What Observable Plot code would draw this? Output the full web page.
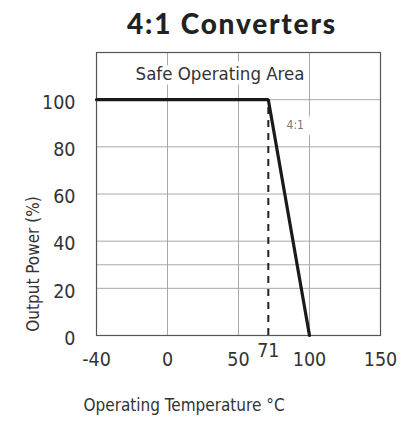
<!DOCTYPE html>
<html>
<head>
<meta charset="utf-8">
<script src="https://cdn.jsdelivr.net/npm/d3@7"></script>
<script src="https://cdn.jsdelivr.net/npm/@observablehq/plot@0.6"></script>
<style>
  body { margin: 0; background: #fff; }
  #title {
    width: 408px; height: 44px; box-sizing: border-box; padding-left: 56px;
    text-align: center; font-family: Lato, "DejaVu Sans", sans-serif; font-weight: 900;
    font-size: 28px; line-height: 46px; color: #222; letter-spacing: 1.8px;
  }
  #chart svg { display: block; }
</style>
</head>
<body>
<div id="title">4:1 Converters</div>
<div id="chart"></div>
<script>
// ---- data ----
const xTicks = [-40, 0, 50, 100, 150];
const xGrid = [0, 50, 100, 150];
const xExtraTick = [71];
const yTicks = [0, 20, 40, 60, 80, 100];
const yGrid = [0, 20, 30, 40, 60, 80, 100];
const yDomain = [0, 120];
const curveTemp = [-40, 71, 100];
const curvePower = [100, 100, 0];
const kneeTemp = [71];
const kneePowerTop = [100];
const areaLabel = ["Safe Operating Area"];
const areaLabelX = [37];
const areaLabelY = [111];
const seriesLabel = ["4:1"];
const seriesLabelX = [90];
const seriesLabelY = [89];
const xLabel = "Operating Temperature °C";
const yLabel = "Output Power (%)";

// ---- layout ----
const W = 408, H = 390, mL = 96, mR = 28, mT = 8, mB = 99;
const xRange = d3.quantize(d3.interpolateNumber(mL, W - mR), xTicks.length);
const font = "'Liberation Sans Narrow', 'DejaVu Sans Condensed', 'Roboto', sans-serif";
const fmt = d => String(d);

const curve = curveTemp.map((t, i) => ({t, p: curvePower[i]}));

const chart = Plot.plot({
  width: W, height: H,
  marginLeft: mL, marginRight: mR, marginTop: mT, marginBottom: mB,
  style: {fontFamily: font, fontSize: "19px", color: "#333", background: "#fff", overflow: "visible"},
  x: {type: "linear", domain: xTicks, range: xRange},
  y: {domain: yDomain},
  marks: [
    Plot.gridX(xGrid, {stroke: "#a8a8a8", strokeOpacity: 1, strokeWidth: 1}),
    Plot.gridY(yGrid, {stroke: "#a8a8a8", strokeOpacity: 1, strokeWidth: 1}),
    Plot.text(areaLabel, {
      x: () => areaLabelX[0], y: () => areaLabelY[0], text: d => d,
      fontSize: 18.5, fill: "#333", stroke: "white", strokeWidth: 9, paintOrder: "stroke"
    }),
    Plot.text(seriesLabel, {
      x: () => seriesLabelX[0], y: () => seriesLabelY[0], text: d => d,
      fontSize: 12, fill: "#777", stroke: "white", strokeWidth: 18, paintOrder: "stroke"
    }),
    Plot.frame({stroke: "#555", strokeWidth: 1.2}),
    Plot.axisX(xTicks, {tickSize: 0, tickPadding: 17, tickFormat: fmt, label: null, fontSize: 19.5, fill: "#333"}),
    Plot.axisX(xExtraTick, {tickSize: 0, tickPadding: 8, tickFormat: fmt, label: null, fontSize: 19.5, fill: "#333"}),
    Plot.axisY(yTicks, {tickSize: 0, tickPadding: 21, tickFormat: fmt, dy: 3, label: null, fontSize: 19.5, fill: "#333"}),
    Plot.text([xLabel], {frameAnchor: "bottom-left", textAnchor: "start", dx: -13, dy: 75, fontSize: 17, fill: "#333"}),
    Plot.text([yLabel], {frameAnchor: "left", textAnchor: "middle", rotate: -90, dx: -63, dy: 70, fontSize: 17, fill: "#333"}),
    Plot.ruleX(kneeTemp, {x: d => d, y1: 0, y2: () => kneePowerTop[0], stroke: "#222", strokeWidth: 2, strokeDasharray: "7,6"}),
    Plot.line(curve, {x: "t", y: "p", stroke: "#1a1a1a", strokeWidth: 3.2, strokeLinejoin: "miter"})
  ]
});
document.getElementById("chart").appendChild(chart);
</script>
</body>
</html>
